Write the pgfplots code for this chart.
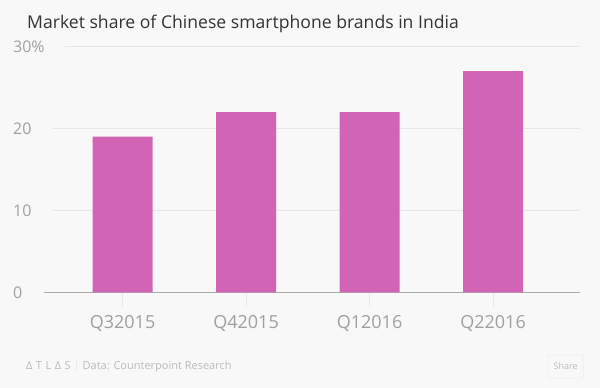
\documentclass[border=0pt]{standalone}
\usepackage{pgfplots}
\pgfplotsset{compat=1.18}
\usepackage{fontspec}
\setmainfont{Open Sans}
\definecolor{bgc}{HTML}{F8F8F8}
\definecolor{titlec}{HTML}{333333}
\definecolor{labc}{HTML}{A0A0A0}
\definecolor{gridc}{HTML}{E6E6E6}
\definecolor{basec}{HTML}{AAAAAA}
\definecolor{tickc}{HTML}{E8E8E8}
\definecolor{barc}{HTML}{D264B6}
\definecolor{footc}{HTML}{BBBBBB}
\begin{document}
\begin{tikzpicture}[x=1pt,y=1pt]
\fill[bgc] (0,0) rectangle (600,388);
\node[anchor=base west, inner sep=0, text=titlec, font=\fontsize{17.6}{20}\selectfont] at (27,359.5) {Market share of Chinese smartphone brands in India};
\begin{axis}[
  at={(44pt,95.7pt)}, anchor=south west,
  scale only axis, width=536pt, height=245.7pt,
  xmin=-0.636, xmax=3.704, ymin=0, ymax=30,
  clip=false,
  axis y line*=left,
  y axis line style={draw=none},
  axis x line*=bottom,
  x axis line style={draw=basec, line width=0.8pt, -},
  xtick={0,1,2,3},
  xticklabels={Q32015,Q42015,Q12016,Q22016},
  x tick style={draw=tickc, line width=0.8pt},
  major tick length=15pt,
  tick align=outside,
  xticklabel style={font=\fontsize{18}{20}\selectfont, text=labc, anchor=north, yshift=-5pt},
  ytick={0,10,20,30},
  yticklabels={0,10,20,30\%},
  ytick style={draw=none},
  yticklabel style={font=\fontsize{16}{18}\selectfont, text=labc, anchor=west, inner sep=0pt, xshift=-16pt},
  ybar, bar width=60pt,
]
\draw[gridc, line width=0.8pt] (axis cs:-0.563,10) -- (axis cs:3.704,10);
\draw[gridc, line width=0.8pt] (axis cs:-0.563,20) -- (axis cs:3.704,20);
\draw[gridc, line width=0.8pt] (axis cs:-0.466,30) -- (axis cs:3.704,30);
\addplot[fill=barc, draw=none] coordinates {(0,19) (1,22) (2,22) (3,27)};
\end{axis}
\node[anchor=base west, inner sep=0, text=footc, font=\fontsize{11}{13}\selectfont] at (26,18) {\char"0394\hspace{3.5pt}T\hspace{3.5pt}L\hspace{3.5pt}\char"0394\hspace{3.5pt}S\hspace{3pt}\textcolor{gridc}{|}\hspace{3pt}Data: Counterpoint Research};
\draw[gridc, rounded corners=2pt, fill=bgc] (548,10) rectangle (583.5,33);
\node[text=footc, font=\fontsize{9}{10}\selectfont, inner sep=0] at (565.7,21.5) {Share};
\end{tikzpicture}
\end{document}
